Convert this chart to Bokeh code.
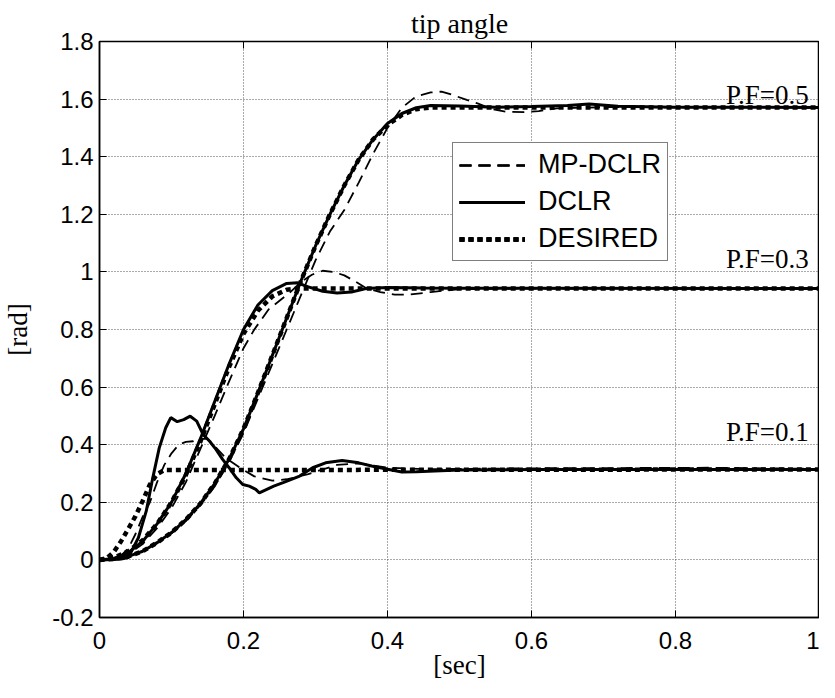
from bokeh.plotting import figure
from bokeh.models import FixedTicker, LinearAxis, Range1d
from bokeh.core.properties import value
from bokeh.embed import file_html
from bokeh.resources import INLINE

# ---------------- data ----------------
x_ticks = [0, 0.2, 0.4, 0.6, 0.8, 1.0]
x_tick_labels = ["0", "0.2", "0.4", "0.6", "0.8", "1"]
y_ticks = [-0.2, 0, 0.2, 0.4, 0.6, 0.8, 1.0, 1.2, 1.4, 1.6, 1.8]
y_tick_labels = ["-0.2", "0", "0.2", "0.4", "0.6", "0.8", "1", "1.2", "1.4", "1.6", "1.8"]

# DESIRED trajectories
des01_t = [0, 0.01, 0.02, 0.03, 0.04, 0.05, 0.06, 0.07, 0.08, 0.09, 1.0]
des01_v = [0, 0.006, 0.028, 0.065, 0.108, 0.152, 0.205, 0.262, 0.298, 0.312, 0.314]

des03_t = [0, 0.02, 0.04, 0.06, 0.08, 0.10, 0.12, 0.14, 0.16, 0.18, 0.20, 0.22, 0.24, 0.26, 0.275, 1.0]
des03_v = [0, 0.008, 0.03, 0.068, 0.125, 0.20, 0.295, 0.41, 0.54, 0.67, 0.785, 0.865, 0.915, 0.938, 0.942, 0.942]

des05_t = [0, 0.02, 0.04, 0.06, 0.08, 0.10, 0.12, 0.14, 0.16, 0.18, 0.20, 0.22, 0.24, 0.26, 0.28,
           0.30, 0.32, 0.34, 0.36, 0.38, 0.40, 0.42, 0.44, 0.46, 1.0]
des05_v = [0, 0.003, 0.012, 0.03, 0.06, 0.095, 0.14, 0.195, 0.265, 0.35, 0.455, 0.58, 0.71, 0.84, 0.97,
           1.09, 1.20, 1.30, 1.39, 1.46, 1.51, 1.545, 1.565, 1.571, 1.571]

# DCLR responses
dclr01_t = [0, 0.02, 0.03, 0.04, 0.054, 0.065, 0.074, 0.083, 0.092, 0.099, 0.108, 0.117, 0.126, 0.135,
            0.144, 0.153, 0.162, 0.171, 0.18, 0.19, 0.199, 0.208, 0.217, 0.222, 0.242, 0.255, 0.278,
            0.296, 0.314, 0.337, 0.36, 0.378, 0.40, 0.42, 0.44, 0.50, 0.60, 1.0]
dclr01_v = [0, 0.001, 0.003, 0.008, 0.077, 0.17, 0.285, 0.389, 0.459, 0.494, 0.48, 0.487, 0.499, 0.482,
            0.435, 0.412, 0.383, 0.349, 0.32, 0.285, 0.262, 0.256, 0.245, 0.233, 0.256, 0.268, 0.291,
            0.32, 0.337, 0.345, 0.337, 0.326, 0.315, 0.305, 0.306, 0.312, 0.314, 0.314]

dclr03_t = [0, 0.02, 0.04, 0.06, 0.08, 0.10, 0.12, 0.14, 0.16, 0.18, 0.20, 0.22, 0.24, 0.26, 0.275,
            0.29, 0.31, 0.33, 0.35, 0.37, 0.40, 0.45, 0.50, 0.60, 1.0]
dclr03_v = [0, 0.005, 0.025, 0.065, 0.125, 0.20, 0.30, 0.42, 0.55, 0.68, 0.80, 0.885, 0.935, 0.96, 0.962,
            0.948, 0.933, 0.927, 0.93, 0.942, 0.946, 0.944, 0.943, 0.943, 0.942]

dclr05_t = [0, 0.02, 0.04, 0.06, 0.08, 0.10, 0.12, 0.14, 0.16, 0.18, 0.20, 0.22, 0.24, 0.26, 0.28,
            0.30, 0.32, 0.34, 0.36, 0.38, 0.40, 0.42, 0.44, 0.46, 0.50, 0.55, 0.60, 0.65, 0.68, 0.72,
            0.80, 1.0]
dclr05_v = [0, 0.003, 0.012, 0.03, 0.06, 0.095, 0.14, 0.195, 0.265, 0.35, 0.455, 0.58, 0.71, 0.84, 0.97,
            1.09, 1.20, 1.30, 1.39, 1.46, 1.515, 1.55, 1.57, 1.578, 1.576, 1.572, 1.574, 1.578, 1.583, 1.575,
            1.572, 1.571]

# MP-DCLR responses
mp01_t = [0, 0.02, 0.03, 0.04, 0.05, 0.06, 0.07, 0.08, 0.09, 0.10, 0.11, 0.12, 0.13, 0.14, 0.15, 0.16,
          0.175, 0.195, 0.215, 0.24, 0.26, 0.29, 0.33, 0.36, 0.40, 0.45, 0.60, 0.85, 1.0]
mp01_v = [0, 0.003, 0.015, 0.04, 0.09, 0.15, 0.20, 0.27, 0.33, 0.37, 0.40, 0.41, 0.412, 0.42, 0.42, 0.395,
          0.355, 0.32, 0.29, 0.275, 0.28, 0.298, 0.33, 0.335, 0.32, 0.315, 0.318, 0.32, 0.316]

mp03_t = [0, 0.02, 0.04, 0.06, 0.08, 0.10, 0.12, 0.14, 0.16, 0.18, 0.20, 0.215, 0.235, 0.25, 0.265,
          0.28, 0.295, 0.31, 0.325, 0.34, 0.355, 0.37, 0.39, 0.41, 0.43, 0.46, 0.50, 0.60, 1.0]
mp03_v = [0, 0.004, 0.02, 0.055, 0.11, 0.18, 0.27, 0.385, 0.50, 0.62, 0.735, 0.80, 0.87, 0.90, 0.93,
          0.965, 0.99, 1.004, 1.0, 0.988, 0.967, 0.944, 0.93, 0.921, 0.921, 0.93, 0.94, 0.942, 0.942]

mp05_t = [0, 0.02, 0.04, 0.06, 0.08, 0.10, 0.12, 0.14, 0.16, 0.18, 0.20, 0.22, 0.24, 0.26, 0.28, 0.30,
          0.32, 0.34, 0.36, 0.38, 0.40, 0.42, 0.44, 0.46, 0.475, 0.49, 0.51, 0.525, 0.545, 0.565, 0.59,
          0.61, 0.635, 0.70, 1.0]
mp05_v = [0, 0.003, 0.012, 0.03, 0.058, 0.092, 0.135, 0.19, 0.255, 0.34, 0.44, 0.56, 0.68, 0.80, 0.92, 1.04,
          1.14, 1.215, 1.31, 1.41, 1.50, 1.57, 1.61, 1.623, 1.626, 1.615, 1.597, 1.585, 1.565, 1.556, 1.555,
          1.558, 1.568, 1.572, 1.571]

pf_labels = ["P.F=0.5", "P.F=0.3", "P.F=0.1"]
pf_label_x = [0.985, 0.985, 0.985]
pf_label_y = [1.614, 1.044, 0.445]

# ---------------- figure ----------------
SERIF = "Liberation Serif"
SANS = "Liberation Sans"

p = figure(width=819, height=682, x_range=Range1d(0, 1), y_range=Range1d(-0.2, 1.8),
           output_backend="svg", toolbar_location=None,
           min_border_left=93, min_border_right=0, min_border_top=41, min_border_bottom=62)

p.title.text = "tip angle"
p.title.align = "center"
p.title.text_font = SERIF
p.title.text_font_style = "normal"
p.title.text_font_size = "28px"
p.title.text_color = "black"
p.title.standoff = 6

p.outline_line_color = "black"
p.outline_line_width = 1.5
p.background_fill_color = "white"
p.border_fill_color = "white"

for ax, ticks, labels in ((p.xaxis[0], x_ticks, x_tick_labels), (p.yaxis[0], y_ticks, y_tick_labels)):
    ax.ticker = FixedTicker(ticks=ticks)
    ax.major_label_overrides = {t: l for t, l in zip(ticks, labels)}
    ax.major_label_text_font = SANS
    ax.major_label_text_font_size = "24px"
    ax.major_label_text_color = "black"
    ax.axis_line_color = "black"
    ax.axis_line_width = 1.5
    ax.major_tick_in = 7
    ax.major_tick_out = 0
    ax.major_tick_line_color = "black"
    ax.minor_tick_line_color = None
    ax.axis_label_text_font = SERIF
    ax.axis_label_text_font_style = "normal"
    ax.axis_label_text_font_size = "27px"
    ax.axis_label_text_color = "black"

p.xaxis.axis_label = "[sec]"
p.yaxis.axis_label = "[rad]"
p.xaxis.major_label_standoff = 14
p.yaxis.major_label_standoff = 6
p.xaxis.axis_label_standoff = -2
p.yaxis.axis_label_standoff = 16

top = LinearAxis(ticker=FixedTicker(ticks=x_ticks), major_label_text_font_size="1px",
                 major_label_text_color=None,
                 major_tick_in=7, major_tick_out=0, minor_tick_line_color=None,
                 axis_line_color="black", major_label_standoff=0)
p.add_layout(top, "above")

for g in (p.xgrid[0], p.ygrid[0]):
    g.grid_line_color = "#555555"
    g.grid_line_dash = "1 2"
    g.grid_line_width = 1
p.xgrid[0].ticker = FixedTicker(ticks=x_ticks)
p.ygrid[0].ticker = FixedTicker(ticks=y_ticks)

# MP-DCLR dashed
for t, v in ((mp01_t, mp01_v), (mp03_t, mp03_v), (mp05_t, mp05_v)):
    p.line(t, v, line_color="black", line_width=1.8, line_dash="12 7", legend_label="MP-DCLR")
# DCLR solid
for t, v in ((dclr01_t, dclr01_v), (dclr03_t, dclr03_v), (dclr05_t, dclr05_v)):
    p.line(t, v, line_color="black", line_width=3, legend_label="DCLR")
# DESIRED dotted
for t, v in ((des01_t, des01_v), (des03_t, des03_v), (des05_t, des05_v)):
    p.line(t, v, line_color="black", line_width=4.5, line_dash="5 4", legend_label="DESIRED")

p.text(x=pf_label_x, y=pf_label_y, text=pf_labels, text_font=value(SERIF), text_font_size="27px",
       text_align="right", text_baseline="alphabetic", text_color="black")

lg = p.legend[0]
lg.location = (353, 356)
lg.label_text_font = SANS
lg.label_text_font_size = "27px"
lg.label_text_color = "black"
lg.glyph_width = 66
lg.glyph_height = 26
lg.label_height = 26
lg.label_standoff = 13
lg.spacing = 6
lg.padding = 6
lg.margin = 0
lg.border_line_color = "black"
lg.border_line_width = 1.5
lg.background_fill_color = "white"
lg.background_fill_alpha = 1.0

open("out.html", "w").write(file_html(p, INLINE))
